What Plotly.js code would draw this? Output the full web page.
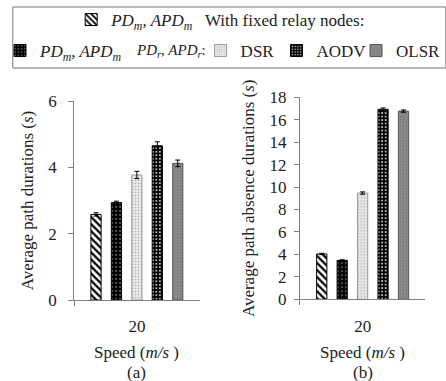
<!DOCTYPE html>
<html>
<head>
<meta charset="utf-8">
<script src="https://cdn.plot.ly/plotly-3.0.1.min.js"></script>
<style>html,body{margin:0;padding:0;background:#fff;}#chart{width:446px;height:381px;}</style>
</head>
<body>
<div id="chart"></div>
<script>
// ---- data ----
var categories = ["20"];
var seriesNames = [
  "<i>PD<sub>m</sub>, APD<sub>m</sub></i>",
  "<i>PD<sub>m</sub>, APD<sub>m</sub></i>",
  "DSR",
  "AODV",
  "OLSR"
];
var pathDurations = [2.58, 2.94, 3.77, 4.65, 4.12];
var pathDurationsErr = [0.05, 0.04, 0.11, 0.12, 0.1];
var absenceDurations = [4.04, 3.47, 9.47, 16.93, 16.77];
var absenceDurationsErr = [0.06, 0.05, 0.1, 0.12, 0.1];
var yTicksA = [0, 2, 4, 6];
var yTicksB = [0, 2, 4, 6, 8, 10, 12, 14, 16, 18];

// ---- styles ----
var FONT = "Liberation Serif";
var styles = [
  {pattern: {shape: "\\", fgcolor: "#000", bgcolor: "#fff", size: 5, solidity: 0.45}, line: "#000"},
  {pattern: {shape: ".", fgcolor: "#555", bgcolor: "#000", size: 4, solidity: 0.25}, line: "#000"},
  {pattern: {shape: ".", fgcolor: "#b8b8b8", bgcolor: "#f2f2f2", size: 3, solidity: 0.4}, line: "#999"},
  {pattern: {shape: ".", fgcolor: "#fff", bgcolor: "#000", size: 3.5, solidity: 0.2}, line: "#000"},
  {pattern: {shape: ".", fgcolor: "#777", bgcolor: "#8c8c8c", size: 3, solidity: 0.3}, line: "#555"}
];
var legendIds = ["legend", "legend2", "legend3", "legend4", "legend5"];

var traces = [];
for (var i = 0; i < 5; i++) {
  traces.push({
    type: "bar", x: categories, y: [pathDurations[i]], name: seriesNames[i],
    xaxis: "x", yaxis: "y", legend: legendIds[i], showlegend: true,
    marker: {color: styles[i].pattern.bgcolor, pattern: styles[i].pattern, line: {color: styles[i].line, width: 1}},
    error_y: {type: "data", array: [pathDurationsErr[i]], color: "#000", thickness: 1, width: 2.5}
  });
}
for (var j = 0; j < 5; j++) {
  traces.push({
    type: "bar", x: categories, y: [absenceDurations[j]], name: seriesNames[j],
    xaxis: "x2", yaxis: "y2", showlegend: false,
    marker: {color: styles[j].pattern.bgcolor, pattern: styles[j].pattern, line: {color: styles[j].line, width: 1}},
    error_y: {type: "data", array: [absenceDurationsErr[j]], color: "#000", thickness: 1, width: 2.5}
  });
}

var W = 446, H = 381;
function px(v) { return v / W; }
function py(v) { return (H - v) / H; }

var TXT = {family: FONT, size: 17, color: "#222"};
var LEG = {family: FONT, size: 17, color: "#222"};
var axisCommon = {
  showline: true, linecolor: "#808080", linewidth: 1, showgrid: false, zeroline: false,
  ticks: "outside", ticklen: 5, tickcolor: "#808080", tickfont: TXT
};
var xCommon = Object.assign({}, axisCommon, {type: "category", tickson: "boundaries", ticklabelstandoff: 11, fixedrange: true});

function legendAt(xc, yc) {
  return {x: px(xc - 24), xanchor: "left", y: py(yc), yanchor: "middle", orientation: "h",
    bgcolor: "rgba(0,0,0,0)", borderwidth: 0, font: LEG, itemclick: false};
}

var layout = {
  width: W, height: H,
  margin: {l: 0, r: 0, t: 0, b: 0},
  paper_bgcolor: "#fff", plot_bgcolor: "#fff",
  font: TXT,
  barmode: "group", bargap: 0.186, bargroupgap: 0.5,
  xaxis: Object.assign({}, xCommon, {domain: [px(70), px(199)], anchor: "y"}),
  yaxis: Object.assign({}, axisCommon, {domain: [py(300), py(101)], range: [0, 6], tickvals: yTicksA, anchor: "x", ticklabelstandoff: 8,
    title: {text: "Average path durations (<i>s</i>)", font: TXT, standoff: 10}, automargin: false}),
  xaxis2: Object.assign({}, xCommon, {domain: [px(302), px(431)], anchor: "y2"}),
  yaxis2: Object.assign({}, axisCommon, {domain: [py(299.3), py(97.3)], range: [0, 18], tickvals: yTicksB, anchor: "x2", ticklabelstandoff: 4,
    title: {text: "Average path absence durations (<i>s</i>)", font: TXT, standoff: 10}, automargin: false}),
  legend: legendAt(91, 20),
  legend2: legendAt(17.5, 51),
  legend3: legendAt(224, 51),
  legend4: legendAt(302, 51),
  legend5: legendAt(384, 51),
  shapes: [
    {type: "rect", xref: "paper", yref: "paper", x0: px(7), x1: px(452), y0: py(68), y1: py(7),
      line: {color: "#777", width: 1}, fillcolor: "rgba(0,0,0,0)"}
  ],
  annotations: [
    {xref: "paper", yref: "paper", x: px(202), y: py(20), xanchor: "left", yanchor: "middle", showarrow: false,
      text: "With fixed relay nodes:", font: LEG},
    {xref: "paper", yref: "paper", x: px(132), y: py(51), xanchor: "left", yanchor: "middle", showarrow: false,
      text: "<i>PD<sub>r</sub>, APD<sub>r</sub></i>:", font: {family: FONT, size: 15, color: "#222"}},
    {xref: "paper", yref: "paper", x: px(134.5), y: py(352), xanchor: "center", yanchor: "middle", showarrow: false,
      text: "Speed (<i>m/s</i> )", font: TXT},
    {xref: "paper", yref: "paper", x: px(134.5), y: py(372), xanchor: "center", yanchor: "middle", showarrow: false,
      text: "(a)", font: TXT},
    {xref: "paper", yref: "paper", x: px(366.5), y: py(352), xanchor: "center", yanchor: "middle", showarrow: false,
      text: "Speed (<i>m/s</i> )", font: TXT},
    {xref: "paper", yref: "paper", x: px(366.5), y: py(372), xanchor: "center", yanchor: "middle", showarrow: false,
      text: "(b)", font: TXT}
  ]
};

Plotly.newPlot("chart", traces, layout, {displayModeBar: false, staticPlot: true});
</script>
</body>
</html>
